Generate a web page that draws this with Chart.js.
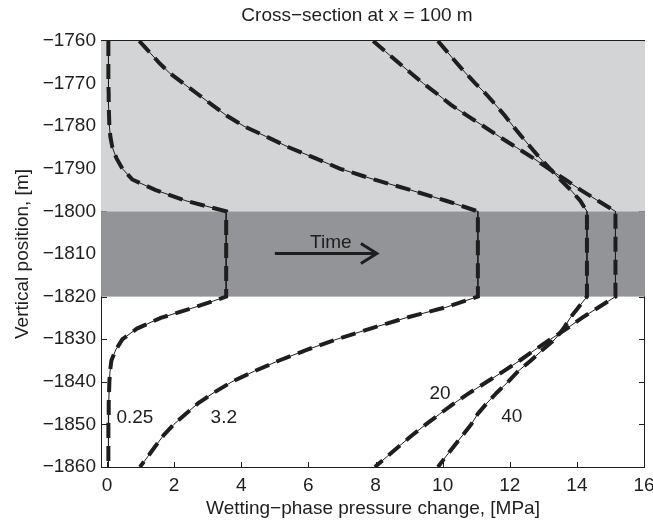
<!DOCTYPE html>
<html>
<head>
<meta charset="utf-8">
<title>Cross-section at x = 100 m</title>
<script src="https://cdn.jsdelivr.net/npm/chart.js@4.4.1/dist/chart.umd.min.js"></script>
<style>
  html, body { margin: 0; padding: 0; background: #fff; }
  #wrap { width: 653px; height: 520px; }
</style>
</head>
<body>
<div id="wrap"><canvas id="chart" width="653" height="520"></canvas></div>
<script>
// depth of every sample [m]; the two halves are joined straight through the injection layer
const depth = [
  -1760, -1762.5, -1765, -1767.5, -1770, -1772.5, -1775, -1777.5, -1780,
  -1782.5, -1785, -1787.5, -1790, -1792.5, -1795, -1797.5, -1800,
  -1820, -1822.5, -1825, -1827.5, -1830, -1832.5, -1835, -1837.5, -1840,
  -1842.5, -1845, -1847.5, -1850, -1852.5, -1855, -1857.5, -1860
];

// pressure change [MPa] at each depth, one array per time
const p025 = [0.04, 0.04, 0.04, 0.04, 0.04, 0.05, 0.05, 0.06, 0.07, 0.1, 0.16, 0.28, 0.46, 0.75, 1.45, 2.35, 3.55,
              3.55, 2.62, 1.6, 0.89, 0.46, 0.26, 0.13, 0.09, 0.07, 0.06, 0.05, 0.05, 0.04, 0.04, 0.04, 0.04, 0.04];
const p32  = [0.96, 1.25, 1.54, 1.86, 2.28, 2.71, 3.13, 3.56, 4.08, 4.76, 5.43, 6.2, 6.95, 7.95, 9.05, 10.1, 11.05,
              11.05, 10.1, 8.9, 7.85, 6.85, 5.95, 5.13, 4.39, 3.72, 3.19, 2.72, 2.35, 1.99, 1.69, 1.45, 1.22, 0.98];
const p20  = [7.93, 8.3, 8.67, 9.05, 9.43, 9.85, 10.25, 10.73, 11.22, 11.7, 12.2, 12.7, 13.17, 13.65, 14.12, 14.63, 15.15,
              15.15, 14.65, 14.15, 13.7, 13.22, 12.75, 12.3, 11.82, 11.32, 10.82, 10.35, 9.92, 9.5, 9.1, 8.72, 8.35, 7.98];
const p40  = [9.86, 10.13, 10.4, 10.68, 10.98, 11.3, 11.58, 11.85, 12.1, 12.36, 12.63, 12.9, 13.2, 13.5, 13.82, 14.1, 14.3,
              14.3, 14.05, 13.8, 13.6, 13.35, 12.98, 12.63, 12.25, 11.95, 11.62, 11.32, 11.05, 10.85, 10.6, 10.35, 10.1, 9.86];

const xTicks = [0, 2, 4, 6, 8, 10, 12, 14, 16];
const yTicks = [-1860, -1850, -1840, -1830, -1820, -1810, -1800, -1790, -1780, -1770, -1760];

// caprock and aquifer layers
const layerTop = [-1760, -1800];
const layerBottom = [-1800, -1820];

// curve labels (time) and the "Time" arrow, in data units
const timeLabels = ['0.25', '3.2', '20', '40'];
const labelX = [0.83, 3.48, 9.92, 12.06];
const labelY = [-1848.5, -1848.5, -1842.8, -1848.2];
const arrowFrom = [5.0, -1809.9];
const arrowTo = [8.04, -1809.9];
const arrowText = [6.67, -1807.4];

const ink = '#1e1e1e';
const layerColors = ['#d3d4d6', '#939498'];
const fontFamily = '"Liberation Sans", Arial, sans-serif';
const font = { family: fontFamily, size: 19 };

const datasets = [];
[p025, p32, p20, p40].forEach(vals => {
  const pts = () => vals.map((v, k) => ({ x: v, y: depth[k] }));
  // thick dashes on top of a thin solid line
  datasets.push({ data: pts(), borderColor: ink, borderWidth: 4, borderDash: [15, 8], order: 0 });
  datasets.push({ data: pts(), borderColor: ink, borderWidth: 1, order: 1 });
});

const decor = {
  id: 'decor',
  beforeDatasetsDraw(chart) {
    const { ctx, chartArea: a, scales: { x, y } } = chart;
    ctx.save();
    // box with inward ticks
    ctx.strokeStyle = ink;
    ctx.lineWidth = 1;
    ctx.strokeRect(a.left - 0.5, a.top - 0.5, a.width + 1, a.height + 1);
    ctx.beginPath();
    x.ticks.forEach(t => {
      const px = Math.round(x.getPixelForValue(t.value)) + 0.5;
      ctx.moveTo(px, a.bottom); ctx.lineTo(px, a.bottom - 5);
      ctx.moveTo(px, a.top); ctx.lineTo(px, a.top + 5);
    });
    y.ticks.forEach(t => {
      const py = Math.round(y.getPixelForValue(t.value)) + 0.5;
      ctx.moveTo(a.left, py); ctx.lineTo(a.left + 5, py);
      ctx.moveTo(a.right, py); ctx.lineTo(a.right - 5, py);
    });
    ctx.stroke();
    // shaded layers cover the ticks, like the original
    layerTop.forEach((top, i) => {
      const y0 = y.getPixelForValue(top);
      const y1 = y.getPixelForValue(layerBottom[i]);
      ctx.fillStyle = layerColors[i];
      ctx.fillRect(a.left - 1, y0, a.width + 2, y1 - y0);
    });
    ctx.restore();
  },
  afterDatasetsDraw(chart) {
    const { ctx, scales: { x, y } } = chart;
    ctx.save();
    ctx.fillStyle = ink;
    ctx.font = `19px ${fontFamily}`;
    ctx.textAlign = 'center';
    ctx.textBaseline = 'middle';
    timeLabels.forEach((txt, i) => {
      ctx.fillText(txt, x.getPixelForValue(labelX[i]), y.getPixelForValue(labelY[i]));
    });
    ctx.fillText('Time', x.getPixelForValue(arrowText[0]), y.getPixelForValue(arrowText[1]));

    const x0 = x.getPixelForValue(arrowFrom[0]), y0 = y.getPixelForValue(arrowFrom[1]);
    const x1 = x.getPixelForValue(arrowTo[0]), y1 = y.getPixelForValue(arrowTo[1]);
    ctx.strokeStyle = ink;
    ctx.lineWidth = 3;
    ctx.beginPath();
    ctx.moveTo(x0, y0); ctx.lineTo(x1, y1);
    ctx.moveTo(x1 - 16, y1 - 10); ctx.lineTo(x1, y1); ctx.lineTo(x1 - 16, y1 + 10);
    ctx.stroke();
    ctx.restore();
  },
  afterDraw(chart) {
    const { ctx, chartArea: a } = chart;
    ctx.save();
    ctx.fillStyle = ink;
    ctx.font = `19px ${fontFamily}`;
    ctx.textAlign = 'center';
    ctx.textBaseline = 'middle';
    ctx.fillText('Cross\u2212section at x = 100 m', (a.left + a.right) / 2 - 16, 16);
    ctx.restore();
  }
};

new Chart(document.getElementById('chart'), {
  type: 'scatter',
  data: { datasets },
  options: {
    responsive: false,
    animation: false,
    showLine: true,
    layout: { padding: { top: 41, right: 9, bottom: 0, left: 0 } },
    elements: {
      point: { radius: 0, hoverRadius: 0 },
      line: { tension: 0, fill: false, borderCapStyle: 'butt' }
    },
    plugins: {
      legend: { display: false },
      tooltip: { enabled: false },
      title: { display: false }
    },
    scales: {
      x: {
        type: 'linear',
        min: -0.15,
        max: 16,
        afterBuildTicks: s => { s.ticks = xTicks.map(v => ({ value: v })); },
        // fixed box: no extra room reserved for the overhanging "16"
        afterFit: s => { s.height = 53; s.paddingLeft = 0; s.paddingRight = 0; },
        grid: { display: false, drawTicks: false },
        border: { display: false },
        ticks: { color: ink, font, padding: 7, maxRotation: 0, autoSkip: false, callback: v => String(v) },
        title: { display: true, text: 'Wetting\u2212phase pressure change, [MPa]', color: ink, font, padding: 0 }
      },
      y: {
        type: 'linear',
        min: -1860,
        max: -1760,
        afterBuildTicks: s => { s.ticks = yTicks.map(v => ({ value: v })); },
        afterFit: s => { s.width = 102; s.paddingTop = 0; s.paddingBottom = 0; },
        grid: { display: false, drawTicks: false },
        border: { display: false },
        ticks: { color: ink, font, padding: 6, autoSkip: false, callback: v => String(v).replace('-', '\u2212') },
        title: { display: true, text: 'Vertical position, [m]', color: ink, font, padding: { top: 11, bottom: 0 } }
      }
    }
  },
  plugins: [decor]
});
</script>
</body>
</html>
